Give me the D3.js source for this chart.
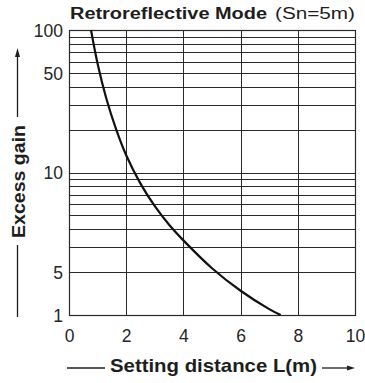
<!DOCTYPE html>
<html>
<head>
<meta charset="utf-8">
<script src="https://cdn.jsdelivr.net/npm/d3@7"></script>
<style>
  html, body { margin: 0; padding: 0; background: #fff; }
  svg { display: block; }
  text { font-family: "Liberation Sans", Arial, Helvetica, sans-serif; }
</style>
</head>
<body>
<svg id="chart" width="365" height="383"></svg>
<script>
// Excess gain vs. setting distance, retroreflective sensor (Sn = 5 m)
const distance = [0.77, 1.0, 1.3, 1.64, 2.0, 2.5, 3.0, 3.5, 4.0, 5.0, 6.0, 7.0, 7.4];
const gain     = [100, 58, 33.3, 20.3, 13.2, 8.35, 5.8, 4.3, 3.34, 2.13, 1.48, 1.1, 1.0];

const xTickValues = [0, 2, 4, 6, 8, 10];
const xTickLabels = ["0", "2", "4", "6", "8", "10"];
const yTickValues = [1, 2, 10, 50, 100];
const yTickLabels = ["1", "5", "10", "50", "100"];
const yGridValues = [1, 2, 3, 4, 5, 6, 7, 8, 9, 10, 20, 30, 40, 50, 60, 70, 80, 90, 100];

const titleBold = "Retroreflective Mode";
const titleRest = "(Sn=5m)";
const xTitle = "Setting distance L(m)";
const yTitle = "Excess gain";

const svg = d3.select("#chart");
const plot = { left: 69, right: 355, top: 30, bottom: 315 };

const x = d3.scaleLinear().domain([0, 10]).range([plot.left, plot.right]);
const y = d3.scaleLog().domain([1, 100]).range([plot.bottom, plot.top]);

const ink = "#1e1e1e";
const gridColor = "#2a2a2a";

// horizontal log grid
svg.append("g")
  .selectAll("line")
  .data(yGridValues)
  .join("line")
  .attr("x1", plot.left).attr("x2", plot.right)
  .attr("y1", d => Math.round(y(d)) + 0.5).attr("y2", d => Math.round(y(d)) + 0.5)
  .attr("stroke", gridColor).attr("stroke-width", 1);

// vertical grid
svg.append("g")
  .selectAll("line")
  .data(xTickValues)
  .join("line")
  .attr("x1", d => Math.round(x(d)) + 0.5).attr("x2", d => Math.round(x(d)) + 0.5)
  .attr("y1", plot.top).attr("y2", plot.bottom)
  .attr("stroke", gridColor).attr("stroke-width", 1);

// frame
svg.append("rect")
  .attr("x", plot.left + 0.5).attr("y", plot.top + 0.5)
  .attr("width", plot.right - plot.left).attr("height", plot.bottom - plot.top)
  .attr("fill", "none").attr("stroke", gridColor).attr("stroke-width", 1.2);

// tick labels through d3 axes (axis lines hidden, the grid stands in for them)
const xAxis = d3.axisBottom(x)
  .tickValues(xTickValues)
  .tickSize(0)
  .tickPadding(10)
  .tickFormat((d, i) => xTickLabels[i]);
const gx = svg.append("g").attr("transform", `translate(0,${plot.bottom})`).call(xAxis);
gx.select(".domain").remove();
gx.selectAll("text")
  .attr("font-family", "Liberation Sans, Arial, sans-serif")
  .attr("font-size", 17.5).attr("fill", "#262626")
  .attr("dy", "0.95em");

const yAxis = d3.axisLeft(y)
  .tickValues(yTickValues)
  .tickSize(0)
  .tickPadding(6)
  .tickFormat((d, i) => yTickLabels[i]);
const gy = svg.append("g").attr("transform", `translate(${plot.left},0)`).call(yAxis);
gy.select(".domain").remove();
gy.selectAll("text")
  .attr("font-family", "Liberation Sans, Arial, sans-serif")
  .attr("font-size", 17.5).attr("fill", "#262626")
  .attr("dy", "0.36em");

// the curve
const line = d3.line()
  .x((d, i) => x(distance[i]))
  .y(d => y(d))
  .curve(d3.curveCatmullRom.alpha(0.5));
svg.append("path")
  .attr("d", line(gain))
  .attr("fill", "none")
  .attr("stroke", "#111")
  .attr("stroke-width", 2.2);

// title
svg.append("text")
  .attr("x", 70).attr("y", 19)
  .attr("font-size", 16).attr("font-weight", "bold").attr("fill", ink)
  .attr("textLength", 197).attr("lengthAdjust", "spacingAndGlyphs")
  .text(titleBold);
svg.append("text")
  .attr("x", 275).attr("y", 19)
  .attr("font-size", 16).attr("fill", ink)
  .attr("textLength", 80).attr("lengthAdjust", "spacingAndGlyphs")
  .text(titleRest);

// x title with arrow
const xt = 368;
svg.append("text")
  .attr("x", 110).attr("y", 372)
  .attr("font-size", 19).attr("font-weight", "bold").attr("fill", ink)
  .attr("textLength", 207).attr("lengthAdjust", "spacingAndGlyphs")
  .text(xTitle);
svg.append("line")
  .attr("x1", 67).attr("x2", 105).attr("y1", xt).attr("y2", xt)
  .attr("stroke", ink).attr("stroke-width", 1.3);
svg.append("line")
  .attr("x1", 322).attr("x2", 349).attr("y1", xt).attr("y2", xt)
  .attr("stroke", ink).attr("stroke-width", 1.3);
svg.append("path")
  .attr("d", `M355,${xt} L347,${xt - 2.5} L347,${xt + 2.5} Z`)
  .attr("fill", ink);

// y title with arrow
const yl = 17.5;
svg.append("text")
  .attr("transform", `translate(25,${238}) rotate(-90)`)
  .attr("font-size", 18).attr("font-weight", "bold").attr("fill", ink)
  .attr("textLength", 113).attr("lengthAdjust", "spacingAndGlyphs")
  .text(yTitle);
svg.append("line")
  .attr("x1", yl).attr("x2", yl).attr("y1", 56).attr("y2", 117)
  .attr("stroke", ink).attr("stroke-width", 1.3);
svg.append("line")
  .attr("x1", yl).attr("x2", yl).attr("y1", 245).attr("y2", 317)
  .attr("stroke", ink).attr("stroke-width", 1.3);
svg.append("path")
  .attr("d", `M${yl},48 L${yl - 2.5},57 L${yl + 2.5},57 Z`)
  .attr("fill", ink);
</script>
</body>
</html>
